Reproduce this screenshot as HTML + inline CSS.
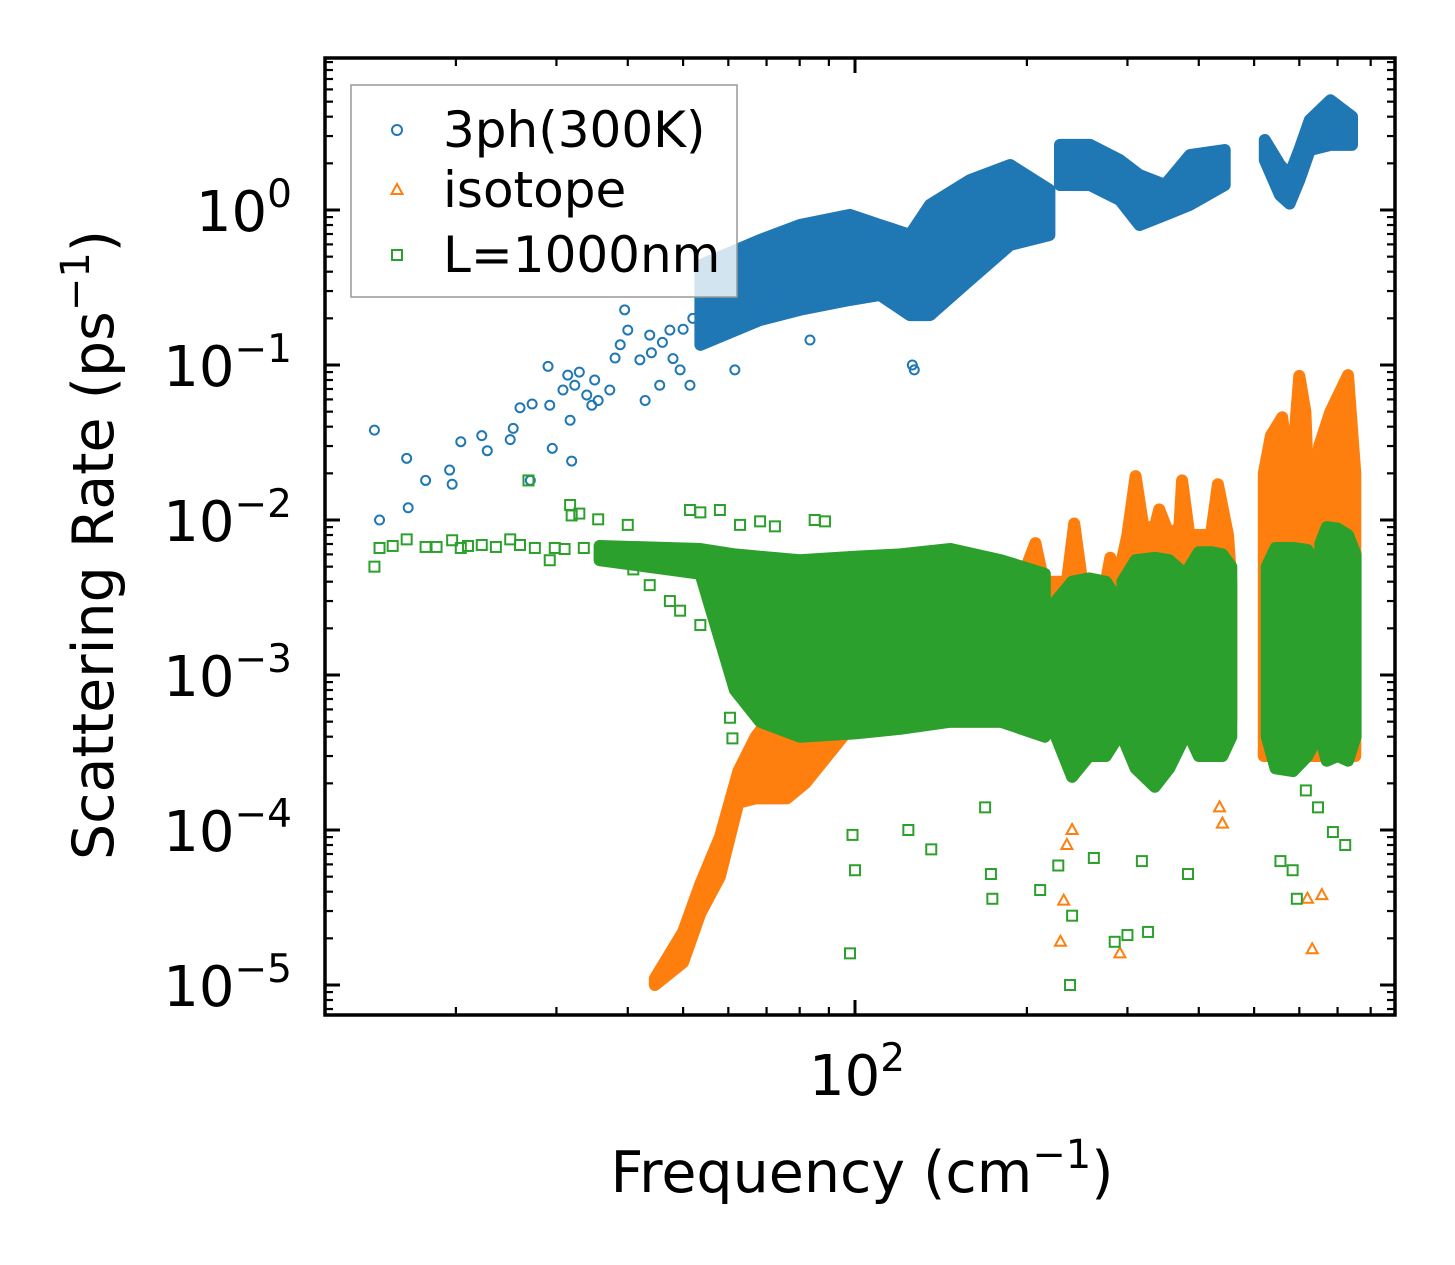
<!DOCTYPE html>
<html><head><meta charset="utf-8"><style>
html,body{margin:0;padding:0;background:#fff;}
svg{display:block;font-family:"DejaVu Sans","Liberation Sans",sans-serif;}
</style></head><body>
<svg id="chart" width="1455" height="1265" viewBox="0 0 1455 1265" xmlns="http://www.w3.org/2000/svg">
<defs><clipPath id="clip"><rect x="325" y="58" width="1070" height="957"/></clipPath></defs>
<g id="bands" clip-path="url(#clip)"></g>
<g id="marks" clip-path="url(#clip)"></g>
<g id="gb" clip-path="url(#clip)"></g>
<g id="axes"></g>
<g id="legend"></g>
</svg>
<script>
// ---- data (frequency in cm^-1, rate in ps^-1) ----
const blueBandF = [[53.6,68.2,80.1,98,110.6,124.8,135.3,159,187,219],[228.6,258,291,315,349,386,444],[522,555,577,600,626,680,742]];
const blueBandHi = [[0.44,0.64,0.80,0.93,0.80,0.69,1.08,1.56,1.95,1.35],[2.63,2.63,2.10,1.68,1.45,2.26,2.44],[2.83,1.95,1.68,2.44,3.8,5.1,4.0]];
const blueBandLo = [[0.135,0.195,0.227,0.263,0.283,0.21,0.21,0.354,0.595,0.69],[1.45,1.45,1.16,0.80,0.93,1.08,1.45],[2.10,1.25,1.10,1.56,2.44,2.63,2.63]];
const blueF = [14.4,14.7,16.4,16.5,17.7,19.5,19.7,20.4,22.2,22.7,24.9,25.2,25.9,27.0,27.2,29.0,29.2,29.5,30.8,31.4,31.7,31.9,32.3,32.9,33.9,34.6,35.0,35.5,37.2,38.0,38.8,39.5,40.0,42.0,42.9,43.7,45.5,47.4,49.4,51.4,53.6,58.0,61.6,68.2,71.0,83.4,126,127,44,46,48,50,52,55,57,60,63];
const blueV = [0.038,0.010,0.025,0.012,0.018,0.021,0.017,0.032,0.035,0.028,0.033,0.039,0.053,0.018,0.056,0.098,0.055,0.029,0.069,0.086,0.044,0.024,0.074,0.090,0.064,0.055,0.080,0.059,0.069,0.111,0.135,0.227,0.168,0.108,0.059,0.156,0.074,0.168,0.093,0.074,0.195,0.263,0.093,0.227,0.305,0.145,0.100,0.093,0.12,0.14,0.11,0.17,0.20,0.24,0.30,0.35,0.50];

const orangeBandF = [[44.6,50,53.6,58,62.5,67,71,76,81.8,100,130,160,195,207,214,235,242,250,275,280,288,300,310,320,335,341,355,370,374,385,420,432,450,456],[520,535,560,575,590,600,615,625,650,680,730,752]];
const orangeBandHi = [[1.1e-5,2.2e-5,4.5e-5,9e-5,2.4e-4,4e-4,5.3e-4,5e-4,4.5e-4,0.0012,0.002,0.003,0.004,0.0071,0.004,0.004,0.0095,0.004,0.004,0.0057,0.004,0.008,0.0192,0.009,0.009,0.0117,0.008,0.009,0.018,0.008,0.008,0.017,0.008,0.004],[0.02,0.035,0.046,0.02,0.04,0.085,0.05,0.01,0.03,0.05,0.086,0.02]];
const orangeBandLo = [[1.0e-5,1.4e-5,2.9e-5,5e-5,1.5e-4,1.6e-4,1.6e-4,1.6e-4,2e-4,5e-4,5e-4,5e-4,5e-4,5e-4,5e-4,5e-4,5e-4,5e-4,5e-4,5e-4,5e-4,5e-4,5e-4,5e-4,5e-4,5e-4,5e-4,5e-4,5e-4,5e-4,5e-4,5e-4,5e-4,5e-4],[3e-4,3e-4,3e-4,3e-4,3e-4,3e-4,3e-4,3e-4,3e-4,3e-4,3e-4,3e-4]];
const orangeF = [229,232,291,435,440,632,657,620,660,240,235];
const orangeV = [1.9e-5,3.5e-5,1.6e-5,1.4e-4,1.1e-4,1.7e-5,3.8e-5,3.6e-5,5.6e-4,1.0e-4,8e-5];

const greenBandF = [[35.7,53.6,61.6,68.2,80,100,120,147,180,215],[225,240,257,275,289],[294,310,335,355,378],[386,400,420,440,456],[526,545,585,620,646],[653,670,700,730,753]];
const greenBandHi = [[0.0068,0.0065,0.0060,0.0058,0.0055,0.0058,0.0060,0.0065,0.0055,0.0045],[0.0030,0.0040,0.0042,0.0040,0.0030],[0.0040,0.0055,0.0057,0.0055,0.0045],[0.0050,0.0062,0.0062,0.0060,0.0050],[0.0050,0.0066,0.0066,0.0064,0.0050],[0.0070,0.0090,0.0088,0.0080,0.0060]];
const greenBandLo = [[0.0055,0.0045,0.0008,0.0005,0.0004,0.00042,0.00045,0.0005,0.0005,0.0004],[0.0004,0.00022,0.0003,0.0003,0.0004],[0.0004,0.00025,0.00019,0.00025,0.0004],[0.0004,0.0003,0.0003,0.0003,0.0004],[0.0004,0.00025,0.00024,0.0003,0.0004],[0.0004,0.00028,0.0003,0.00028,0.0004]];
const greenF = [14.4,14.7,16.4,17.7,19.7,20.4,22.2,24.9,25.9,29.2,29.8,31.7,31.9,32.9,35.5,26.8,40.0,40.9,51.4,53.6,58,62.9,68.2,72.4,85,88.6,43.7,47.4,49.4,53.6,59.2,60.4,61,99,100,98,136,124,169,173,174,211,227,240,238,262,285,300,326,318,383,556,584,594,687,722,647,616,15.5,18.5,21,23.5,27.5,31,33.5];
const greenV = [0.0050,0.0066,0.0075,0.0067,0.0074,0.0066,0.0069,0.0075,0.0069,0.0055,0.0066,0.0125,0.0107,0.0110,0.0101,0.018,0.0093,0.0048,0.0116,0.0112,0.0116,0.0093,0.0098,0.0091,0.0100,0.0098,0.0038,0.0030,0.0026,0.0021,0.0030,0.00053,0.00039,9.3e-5,5.5e-5,1.6e-5,7.5e-5,1.0e-4,1.4e-4,5.2e-5,3.6e-5,4.1e-5,5.9e-5,2.8e-5,1.0e-5,6.6e-5,1.9e-5,2.1e-5,2.2e-5,6.3e-5,5.2e-5,6.3e-5,5.5e-5,3.6e-5,9.7e-5,8.0e-5,1.4e-4,1.8e-4,0.0068,0.0067,0.0068,0.0067,0.0066,0.0065,0.0066];
const greenLineF = [14.4,20,25,30,35.7];
const greenLineV = [0.0066,0.0068,0.0068,0.0066,0.0066];

const yTickExps = [0,-1,-2,-3,-4,-5];
const xTickExps = [2];

// ---- axis functions ----
const PL=325, PR=1395, PT=58, PB=1015;
const X0=855, XDEC=571, Y0=210, YDEC=155;
function xs(f){ return X0 + XDEC*Math.log10(f/100); }
function ys(v){ return Y0 - YDEC*Math.log10(v); }
const NS="http://www.w3.org/2000/svg";
function mk(tag, attrs, parent){ const e=document.createElementNS(NS,tag); for(const k in attrs) e.setAttribute(k,attrs[k]); parent.appendChild(e); return e; }
const C_BLUE="#1f77b4", C_OR="#ff7f0e", C_GR="#2ca02c";
const bands=document.getElementById('bands'), marks=document.getElementById('marks'), gb=document.getElementById('gb'), axes=document.getElementById('axes'), legend=document.getElementById('legend');

function drawBands(F,HI,LO,color,name,parent){
  for(let s=0;s<F.length;s++){
    let pts=[];
    for(let i=0;i<F[s].length;i++) pts.push(xs(F[s][i]).toFixed(1)+','+ys(HI[s][i]).toFixed(1));
    for(let i=F[s].length-1;i>=0;i--) pts.push(xs(F[s][i]).toFixed(1)+','+ys(LO[s][i]).toFixed(1));
    const p=mk('polygon',{points:pts.join(' '),fill:color,stroke:color,'stroke-width':12,'stroke-linejoin':'round'},parent);
    
    
  }
}
function circle(f,v){ const e=mk('circle',{cx:xs(f),cy:ys(v),r:4.5,fill:'none',stroke:C_BLUE,'stroke-width':2},marks);
  
   }
function square(f,v,parent){ const e=mk('rect',{x:xs(f)-5,y:ys(v)-5,width:10,height:10,fill:'none',stroke:C_GR,'stroke-width':2},parent);
  
   }
function tri(f,v){ const x=xs(f),y=ys(v); const e=mk('polygon',{points:`${x},${y-6} ${x-5.5},${y+4} ${x+5.5},${y+4}`,fill:'none',stroke:C_OR,'stroke-width':2},marks);
  
   }

drawBands(blueBandF,blueBandHi,blueBandLo,C_BLUE,'3ph',bands);
for(let i=0;i<blueF.length;i++) circle(blueF[i],blueV[i]);
drawBands(orangeBandF,orangeBandHi,orangeBandLo,C_OR,'isotope',marks);
for(let i=0;i<orangeF.length;i++) tri(orangeF[i],orangeV[i]);
drawBands(greenBandF,greenBandHi,greenBandLo,C_GR,'l1000nm',gb);
for(let i=0;i<greenF.length;i++) square(greenF[i],greenV[i],gb);

// ---- axes ----
const frame=mk('rect',{x:PL,y:PT,width:PR-PL,height:PB-PT,fill:'none',stroke:'#000','stroke-width':3.5},axes);


function tickLine(x1,y1,x2,y2,w){ const l=mk('line',{x1,y1,x2,y2,stroke:'#000','stroke-width':w},axes);
  
   }
for(let e=1;e>=-6;e--){
  for(let m=1;m<10;m++){
    const v=m*Math.pow(10,e), y=ys(v);
    if(y<PT+1||y>PB-1) continue;
    const L = m===1?15:8, w = m===1?3:2.2;
    tickLine(PL,y,PL+L,y,w); tickLine(PR,y,PR-L,y,w);
  }
}
for(let e=1;e<=2;e++){
  for(let m=1;m<10;m++){
    const f=m*Math.pow(10,e), x=xs(f);
    if(x<PL+1||x>PR-1) continue;
    const L = m===1?15:8, w = m===1?3:2.2;
    tickLine(x,PB,x,PB-L,w); tickLine(x,PT,x,PT+L,w);
  }
}
function powLabel(x,y,exp,anchor,name){
  const t=mk('text',{x,y,'font-size':56,'text-anchor':anchor,fill:'#000'},axes);
  
  
  const a=document.createElementNS(NS,'tspan'); a.textContent='10'; t.appendChild(a);
  const b=document.createElementNS(NS,'tspan'); b.setAttribute('dy','-24'); b.setAttribute('font-size','39');
  b.textContent = exp<0 ? '\u2212'+(-exp) : String(exp); t.appendChild(b);
}
yTickExps.forEach(e=>powLabel(292, ys(Math.pow(10,e))+21, e, 'end', 'y-tick-label'));
xTickExps.forEach(e=>powLabel(xs(Math.pow(10,e))+2, 1095, e, 'middle', 'x-tick-label'));
const xt=mk('text',{x:862,y:1192,'font-size':57,'text-anchor':'middle'},axes);


xt.innerHTML='Frequency (cm<tspan dy="-24" font-size="40">\u22121</tspan><tspan dy="24">)</tspan>';
const yt=mk('text',{x:0,y:0,'font-size':57,'text-anchor':'middle',transform:'translate(113,545) rotate(-90)'},axes);


yt.innerHTML='Scattering Rate (ps<tspan dy="-24" font-size="40">\u22121</tspan><tspan dy="24">)</tspan>';

// ---- legend ----
const lb=mk('rect',{x:351,y:85,width:386,height:212,fill:'#fff','fill-opacity':0.8,stroke:'#999','stroke-width':1.5},legend);


const entries=[['3ph(300K)',C_BLUE,'c',130],['isotope',C_OR,'t',190],['L=1000nm',C_GR,'s',255]];
entries.forEach(([lab,col,sh,y])=>{
  let m;
  if(sh==='c') m=mk('circle',{cx:397,cy:y,r:5,fill:'none',stroke:col,'stroke-width':2},legend);
  else if(sh==='t') m=mk('polygon',{points:`397,${y-6} 391.5,${y+4} 402.5,${y+4}`,fill:'none',stroke:col,'stroke-width':2},legend);
  else m=mk('rect',{x:392,y:y-5,width:10,height:10,fill:'none',stroke:col,'stroke-width':2},legend);
  
  
  const t=mk('text',{x:443,y:y+17,'font-size':50},legend); t.textContent=lab;
  
  
});
</script>
</body></html>
